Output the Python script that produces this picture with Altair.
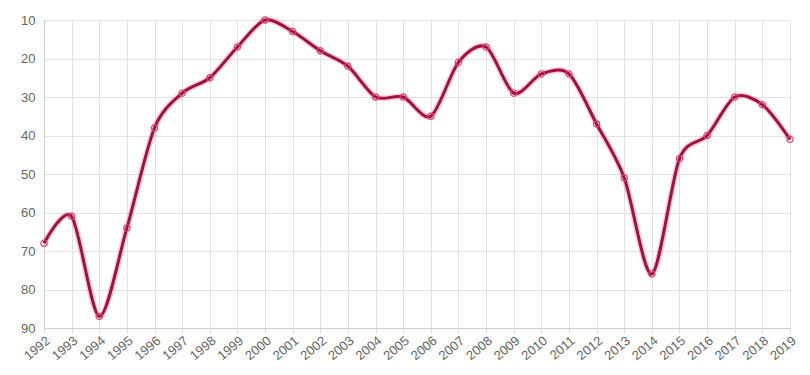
import altair as alt
import pandas as pd

years = list(range(1992, 2020))
values = [68, 61, 87, 64, 38, 29, 25, 17, 10, 13, 18, 22, 30, 30, 35, 21, 17, 29, 24, 24,
          37, 51, 76, 46, 40, 30, 32, 41]

df = pd.DataFrame({"year": years, "value": values})

x = alt.X("year:Q", scale=alt.Scale(domain=[1992, 2019], nice=False, zero=False),
          axis=alt.Axis(values=years, format="d", labelAngle=-40, labelAlign="right",
                        labelBaseline="top", labelFontSize=13, labelColor="#666",
                        labelFont="Liberation Sans", tickColor="#ddd", tickSize=5,
                        domainColor="#ccc", gridColor="#e2e2e2", title=None,
                        labelPadding=1, labelOverlap=False))
y = alt.Y("value:Q", scale=alt.Scale(domain=[10, 90], reverse=True, nice=False, zero=False),
          axis=alt.Axis(values=[10, 20, 30, 40, 50, 60, 70, 80, 90], labelFontSize=13,
                        labelColor="#666", labelFont="Liberation Sans", ticks=False,
                        domainColor="#ccc", gridColor="#e2e2e2", title=None, labelPadding=9))

glow = alt.Chart(df).mark_line(interpolate="cardinal", tension=0.15, color="#f06b8f",
                               strokeWidth=6, opacity=0.35).encode(x=x, y=y)
line = alt.Chart(df).mark_line(interpolate="cardinal", tension=0.15, color="#a01140",
                               strokeWidth=3).encode(x=x, y=y)
pts = alt.Chart(df).mark_point(shape="circle", size=40, filled=False, color="#e0426e",
                               strokeWidth=1.2, opacity=1).encode(x=x, y=y)

chart = (glow + line + pts).properties(
    width=746, height=308,
    autosize=alt.AutoSizeParams(type="none"),
    padding={"left": 36, "top": 12, "right": 10, "bottom": 40},
).configure_view(stroke=None)

chart.save("out.html", embed_options={"renderer": "svg", "actions": False})
